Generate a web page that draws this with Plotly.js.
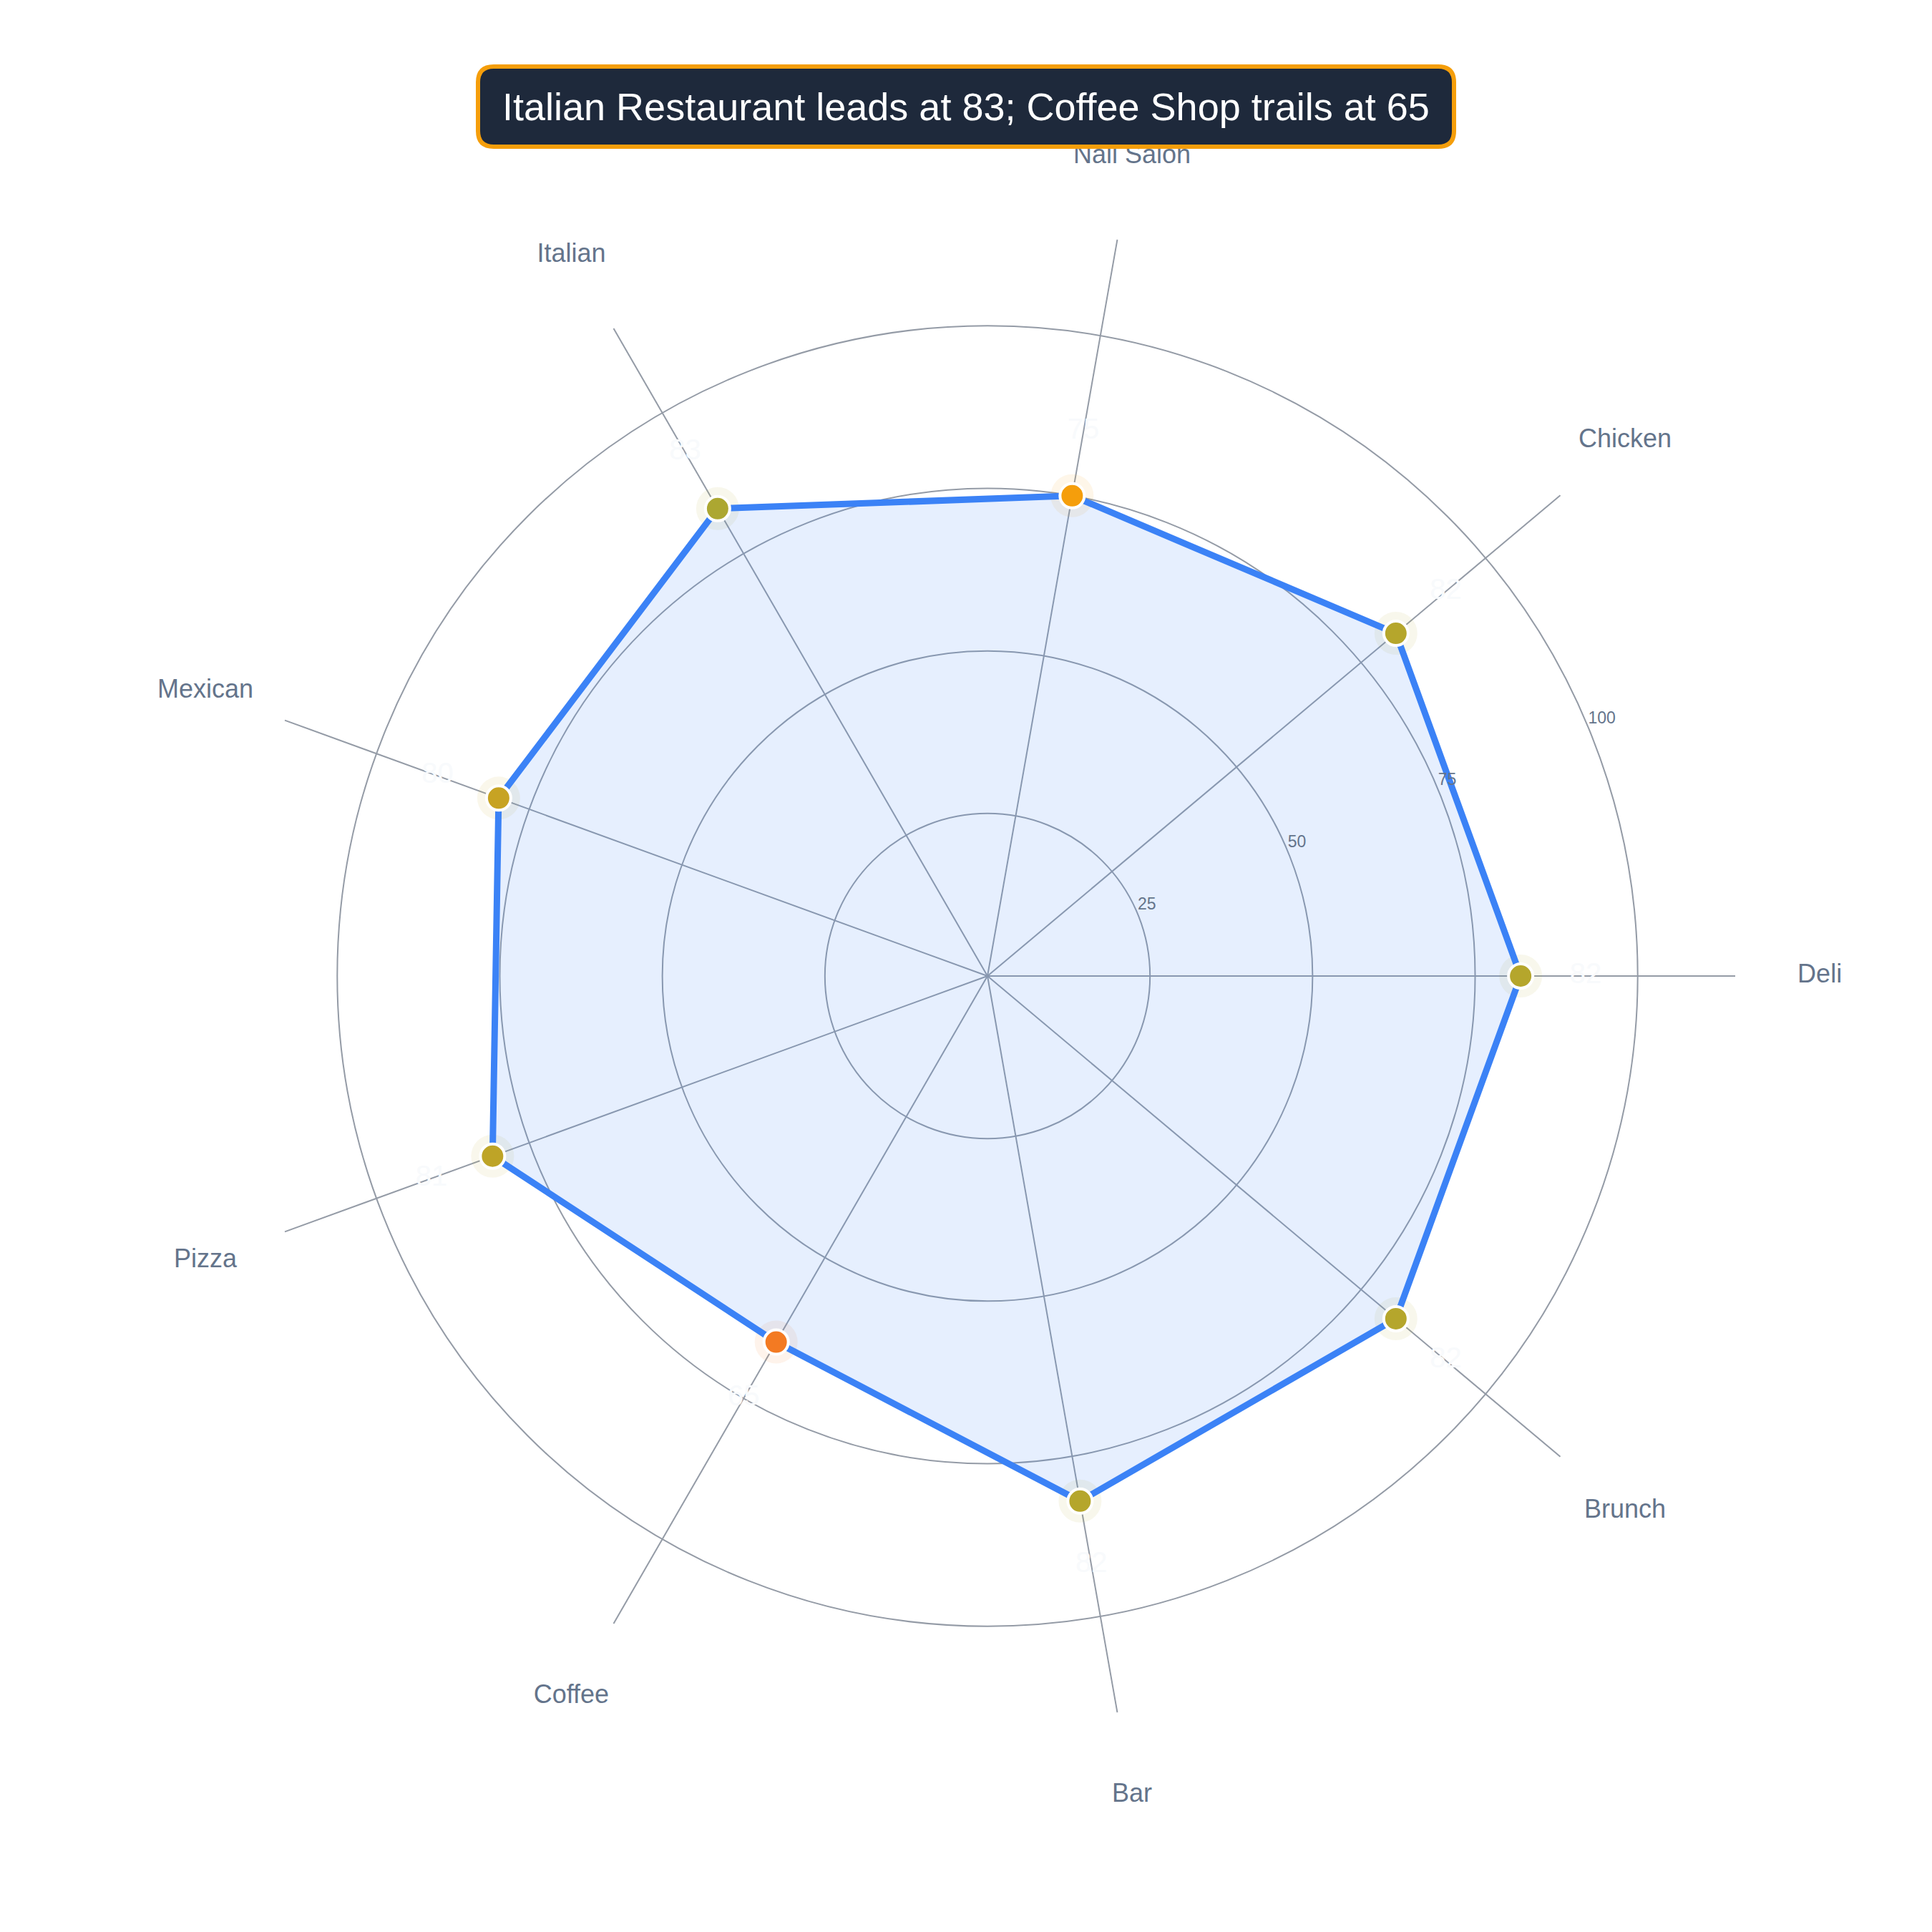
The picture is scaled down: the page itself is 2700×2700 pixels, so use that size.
<!DOCTYPE html>
<html>
<head>
<meta charset="utf-8">
<script src="https://cdn.plot.ly/plotly-3.0.1.min.js"></script>
<style>html,body{margin:0;padding:0;background:#fff}</style>
</head>
<body>
<div id="chart" style="width:2700px;height:2700px"></div>
<script>
const categories = ["Deli", "Chicken", "Nail Salon", "Italian", "Mexican", "Pizza", "Coffee", "Bar", "Brunch"];
const scores = [82, 82, 75, 83, 80, 81, 65, 82, 82];
const radialTicks = [25, 50, 75, 100];
const titleText = "Italian Restaurant leads at 83; Coffee Shop trails at 65";

const W = 2700, H = 2700;
const CX = 1380, CY = 1364, R = 1045, RMAX = 115, RLAB = 128, RAXIS = 22.5;
const dom = (rad) => ({
  x: [(CX - rad) / W, (CX + rad) / W],
  y: [1 - (CY + rad) / H, 1 - (CY - rad) / H]
});
const px2x = p => p / W;
const py2y = p => 1 - p / H;

const scale = [[0, '#ef4444'], [0.5, '#f59e0b'], [1, '#10b981']];
const closedTheta = categories.concat([categories[0]]);
const closedR = scores.concat([scores[0]]);
const FONT = 'Liberation Sans, Arial, sans-serif';

const halo = {
  type: 'scatterpolar', mode: 'markers', theta: categories, r: scores,
  marker: {size: 60, color: scores, colorscale: scale, cmin: 50, cmax: 100, opacity: 0.09, line: {width: 0}},
  hoverinfo: 'skip', showlegend: false
};
const main = {
  type: 'scatterpolar', mode: 'lines', theta: closedTheta, r: closedR,
  fill: 'toself', fillcolor: 'rgba(59,130,246,0.13)',
  line: {color: '#3b82f6', width: 9}, showlegend: false
};
const dots = {
  type: 'scatterpolar', mode: 'markers', theta: categories, r: scores,
  marker: {size: 34, color: scores, colorscale: scale, cmin: 50, cmax: 100, line: {color: '#ffffff', width: 4}},
  showlegend: false
};
const labels = {
  type: 'scatterpolar', mode: 'text', theta: categories, r: scores.map(v => v + 10),
  text: scores.map(String), textposition: 'middle center',
  textfont: {family: FONT, size: 40, color: '#f8fafc'},
  hoverinfo: 'skip', showlegend: false
};
const catLabels = {
  type: 'scatterpolar', subplot: 'polar2', mode: 'text', theta: categories, r: categories.map(() => RLAB),
  text: categories, textposition: 'middle center', cliponaxis: false,
  textfont: {family: FONT, size: 36, color: '#64748b'},
  hoverinfo: 'skip', showlegend: false
};
const tickLabels = {
  type: 'scatterpolar', subplot: 'polar3', mode: 'text', theta: radialTicks.map(() => RAXIS), r: radialTicks,
  text: radialTicks.map(String), textposition: 'top right', cliponaxis: false,
  textfont: {family: FONT, size: 23, color: '#64748b'},
  hoverinfo: 'skip', showlegend: false
};

// rounded title box
const bx0 = 668, bx1 = 2032, by0 = 93, by1 = 205, rad = 22;
function rrPath(x0, y0, x1, y1, r) {
  const X = px2x, Y = py2y;
  return `M ${X(x0 + r)} ${Y(y0)} L ${X(x1 - r)} ${Y(y0)} Q ${X(x1)} ${Y(y0)} ${X(x1)} ${Y(y0 + r)} ` +
         `L ${X(x1)} ${Y(y1 - r)} Q ${X(x1)} ${Y(y1)} ${X(x1 - r)} ${Y(y1)} ` +
         `L ${X(x0 + r)} ${Y(y1)} Q ${X(x0)} ${Y(y1)} ${X(x0)} ${Y(y1 - r)} ` +
         `L ${X(x0)} ${Y(y0 + r)} Q ${X(x0)} ${Y(y0)} ${X(x0 + r)} ${Y(y0)} Z`;
}

const hiddenAngular = {showline: false, showgrid: false, ticks: '', showticklabels: false,
  rotation: 0, direction: 'counterclockwise'};
const layout = {
  width: W, height: H,
  margin: {l: 0, r: 0, t: 0, b: 0},
  paper_bgcolor: '#ffffff',
  font: {family: FONT, color: '#64748b'},
  showlegend: false,
  polar: {
    domain: dom(R),
    bgcolor: 'rgba(0,0,0,0)',
    angularaxis: {
      type: 'category', rotation: 0, direction: 'counterclockwise',
      categoryorder: 'array', categoryarray: categories,
      showline: false, gridcolor: '#949ba6', gridwidth: 2,
      ticks: '', showticklabels: false
    },
    radialaxis: {
      range: [0, RMAX], angle: RAXIS,
      tickvals: radialTicks, showticklabels: false,
      showline: false, ticks: '', gridcolor: '#949ba6', gridwidth: 2
    }
  },
  polar2: {
    domain: dom(R * RLAB / RMAX),
    bgcolor: 'rgba(0,0,0,0)',
    angularaxis: Object.assign({type: 'category', categoryorder: 'array', categoryarray: categories}, hiddenAngular),
    radialaxis: {range: [0, RLAB], showline: false, showgrid: false, ticks: '', showticklabels: false}
  },
  polar3: {
    domain: dom(R),
    bgcolor: 'rgba(0,0,0,0)',
    angularaxis: Object.assign({type: 'linear', thetaunit: 'degrees'}, hiddenAngular),
    radialaxis: {range: [0, RMAX], showline: false, showgrid: false, ticks: '', showticklabels: false}
  },
  shapes: [{
    type: 'path', xref: 'paper', yref: 'paper', layer: 'above',
    path: rrPath(bx0, by0, bx1, by1, rad),
    fillcolor: '#1e293b', line: {color: '#f59e0b', width: 6}
  }],
  annotations: [{
    xref: 'paper', yref: 'paper', x: px2x((bx0 + bx1) / 2), y: py2y((by0 + by1) / 2),
    xanchor: 'center', yanchor: 'middle', showarrow: false,
    text: titleText,
    font: {family: FONT, size: 54, color: '#ffffff'}
  }]
};

Plotly.newPlot('chart', [halo, main, dots, labels, catLabels, tickLabels], layout, {staticPlot: true});
</script>
</body>
</html>
